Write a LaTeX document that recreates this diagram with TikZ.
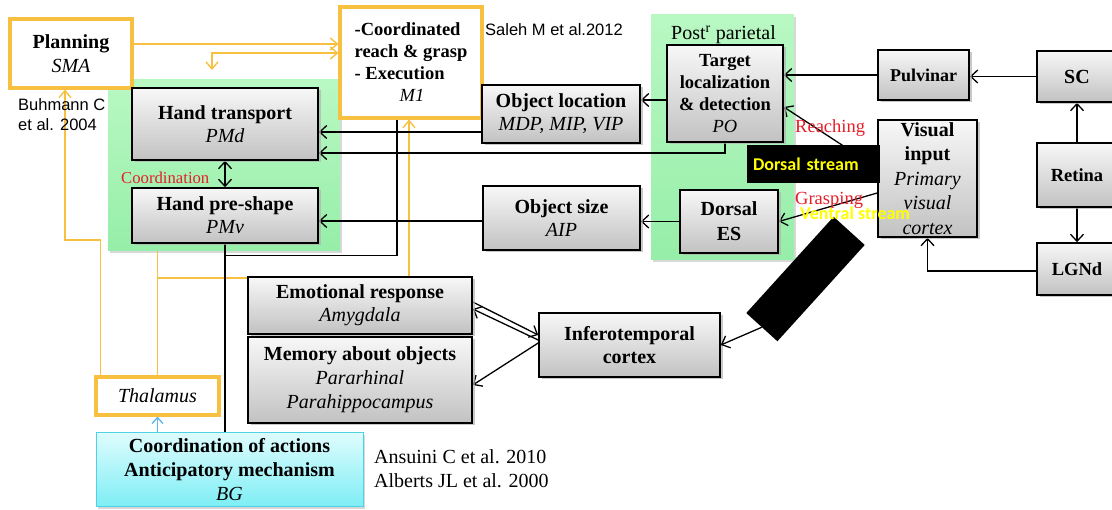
\documentclass[tikz,border=0pt]{standalone}
\usepackage{fontspec}
\setmainfont{Liberation Serif}
\newfontfamily\arialf{Liberation Sans}
\newfontfamily\calf{Carlito}
\usetikzlibrary{arrows.meta,shadows,calc}
\pgfdeclarelayer{bgl}
\pgfdeclarelayer{lines}
\pgfsetlayers{bgl,lines,main}
\definecolor{orng}{RGB}{247,192,64}
\definecolor{grnT}{RGB}{185,248,195}
\definecolor{grnB}{RGB}{150,238,168}
\definecolor{cyT}{RGB}{222,252,253}
\definecolor{cyB}{RGB}{125,238,245}
\definecolor{cyD}{RGB}{80,210,230}
\definecolor{arrblue}{RGB}{90,180,240}
\definecolor{redl}{RGB}{230,30,40}
\definecolor{yel}{RGB}{255,255,0}
\newcommand\itl[1]{{\mdseries\itshape #1}}
\begin{document}
\begin{tikzpicture}[x=1pt,y=-1pt,
 gbox/.style={draw=black,line width=1.6pt,top color=gray!6,bottom color=gray!48,
   drop shadow={shadow xshift=2.5pt,shadow yshift=-2.5pt,fill=gray!60,opacity=0.7},
   align=center,inner sep=0pt,font=\fontsize{20}{23}\selectfont\bfseries},
 obox/.style={draw=orng,line width=3.2pt,fill=white,align=center,inner sep=0pt,font=\fontsize{20}{24}\selectfont},
 bgbox/.style={draw=cyD,line width=1pt,top color=cyT,bottom color=cyB,
   drop shadow={shadow xshift=2pt,shadow yshift=-2pt,fill=gray!50,opacity=0.6},
   align=center,inner sep=0pt,font=\fontsize{20}{24}\selectfont\bfseries},
 greenreg/.style={draw=none,top color=grnT,bottom color=grnB,inner sep=0pt,
   drop shadow={shadow xshift=2pt,shadow yshift=-2pt,fill=gray!50,opacity=0.6}},
 barr/.style={draw=black,line width=1.3pt,-{Straight Barb[length=7pt,width=13pt]}},
 barr2/.style={draw=black,line width=1.3pt,{Straight Barb[length=7pt,width=13pt]}-{Straight Barb[length=7pt,width=13pt]}},
 bline/.style={draw=black,line width=1.3pt},
 oarr/.style={draw=orng,line width=1.4pt,-{Straight Barb[length=7pt,width=12pt]}},
 oarr2/.style={draw=orng,line width=1.4pt,{Straight Barb[length=7pt,width=12pt]}-{Straight Barb[length=7pt,width=12pt]}},
 oline/.style={draw=orng,line width=1.4pt},
 carr/.style={draw=arrblue,line width=1.3pt,-{Straight Barb[length=6pt,width=11pt]}},
 txt/.style={inner sep=0pt,anchor=west}
]
\useasboundingbox (0,0) rectangle (1112,510);
\begin{pgfonlayer}{bgl}
\fill[white] (0,0) rectangle (1112,510);
\node[greenreg,minimum width=232,minimum height=171] (gl) at (224,165.5) {};
\node[greenreg,minimum width=143,minimum height=245] (gr) at (722.5,137.5) {};
\end{pgfonlayer}

% boxes
\node[obox,minimum width=122,minimum height=69] (plan) at (71,53.5) {\textbf{Planning}\\\textit{SMA}};
\node[obox,minimum width=142,minimum height=111,align=left,font=\fontsize{18.5}{22}\selectfont\bfseries] (m1) at (411,62.5) {-Coordinated\\reach \& grasp\\- Execution\\\hspace*{45pt}\itl{M1}};
\node[gbox,minimum width=186,minimum height=72] (ht) at (225,124) {Hand transport\\\itl{PMd}};
\node[gbox,minimum width=186,minimum height=55] (pre) at (225,215.5) {Hand pre-shape\\\itl{PMv}};
\node[gbox,minimum width=158,minimum height=58] (loc) at (561,114) {Object location\\\itl{MDP, MIP, VIP}};
\node[gbox,minimum width=157,minimum height=64] (size) at (561.5,218) {Object size\\\itl{AIP}};
\node[gbox,minimum width=116,minimum height=97,font=\fontsize{18.5}{22}\selectfont\bfseries] (tgt) at (725,93.5) {Target\\localization\\\& detection\\\itl{PO}};
\node[gbox,minimum width=98,minimum height=63,font=\fontsize{20}{25}\selectfont\bfseries] (des) at (729,221.5) {Dorsal\\ES};
\node[gbox,minimum width=91,minimum height=50,font=\fontsize{18}{22}\selectfont\bfseries] (pulv) at (923.5,75) {Pulvinar};
\node[gbox,minimum width=80,minimum height=51] (sc) at (1077,76.5) {SC};
\node[gbox,minimum width=80,minimum height=64,font=\fontsize{18.5}{22}\selectfont\bfseries] (ret) at (1077,175) {Retina};
\node[gbox,minimum width=80,minimum height=52,font=\fontsize{18.5}{22}\selectfont\bfseries] (lgn) at (1077,269) {LGNd};
\node[gbox,minimum width=99,minimum height=117,font=\fontsize{20}{24.5}\selectfont\bfseries] (vis) at (927.5,178.5) {Visual\\input\\\itl{Primary}\\\itl{visual}\\\itl{cortex}};
\node[gbox,minimum width=181,minimum height=64] (it) at (629.5,345) {Inferotemporal\\cortex};
\node[gbox,minimum width=224,minimum height=57] (emo) at (360,305.5) {Emotional response\\\itl{Amygdala}};
\node[gbox,minimum width=224,minimum height=86,font=\fontsize{20}{24}\selectfont\bfseries] (mem) at (360,380) {Memory about objects\\\itl{Pararhinal}\\\itl{Parahippocampus}};
\node[obox,minimum width=123,minimum height=38] (thal) at (157.5,396) {\textit{Thalamus}};
\node[bgbox,minimum width=267,minimum height=74] (bg) at (229.5,470) {Coordination of actions\\Anticipatory mechanism\\\itl{BG}};

% connectors
\begin{pgfonlayer}{lines}
\coordinate (a1) at ([yshift=9.5pt]plan.east);
\draw[oarr] (a1) -- (a1 -| m1.west);
\coordinate (a2) at ([yshift=9.5pt]m1.west);
\coordinate (c212) at (212,70);
\draw[oarr2] (a2) -| (c212);
\coordinate (t1) at ([xshift=6pt]thal.north west);
\coordinate (p2) at ([xshift=-6pt]plan.south);
\coordinate (k1) at (65,240);
\draw[oarr] (t1) |- (k1) -- (p2);
\draw[oline] (thal.north) -- (thal.north |- gl.south);
\coordinate (e1) at ([yshift=-2pt]emo.north west);
\draw[oline] (e1) -- (e1 -| thal.north);
\coordinate (e2) at ([xshift=-2pt]m1.south);
\draw[oarr] (e2 |- emo.north) -- (e2);
\coordinate (m2) at ([xshift=-14pt]m1.south);
\coordinate (j1) at ([yshift=-12pt]pre.south);
\draw[bline] (m2) |- (j1);
\draw[bline] (pre.south) -- (pre.south |- bg.north);
\coordinate (l1) at ([yshift=-18pt]loc.west);
\draw[barr] (l1) -- (l1 -| ht.east);
\coordinate (h1) at ([yshift=-29pt]ht.east);
\draw[barr] (tgt.south) |- (h1);
\coordinate (tg1) at ([yshift=-6.5pt]tgt.west);
\draw[barr] (tg1) -- (tg1 -| loc.east);
\coordinate (s1) at ([yshift=-3pt]size.west);
\draw[barr] (s1) -- (s1 -| pre.east);
\draw[barr] (des.west) -- (des.west -| size.east);
\draw[barr] (pulv.west) -- (pulv.west -| tgt.east);
\draw[barr] (sc.west) -- (sc.west -| pulv.east);
\draw[barr] (ret.north) -- (sc.south);
\draw[barr] (ret.south) -- (lgn.north);
\coordinate (lg1) at ([yshift=-2pt]lgn.west);
\draw[barr] (lg1) -| (vis.south);
\draw[barr] ([yshift=10.5pt]vis.west) -- ([yshift=-13.5pt]tgt.east);
\draw[barr] ([yshift=-14.5pt]vis.west) -- (des.east);
\draw[barr] ([yshift=3.5pt]emo.east) -- ([yshift=10pt]it.west);
\draw[barr] ([yshift=5pt]it.west) -- ([yshift=-3.5pt]emo.east);
\draw[barr] ([yshift=2pt]it.west) -- ([yshift=-5pt]mem.east);
\draw[barr2] (ht.south) -- (pre.north);
\draw[carr] (thal.south |- bg.north) -- (thal.south);
\end{pgfonlayer}

% streams
\node[fill=black,minimum width=133,minimum height=38,inner xsep=6pt,inner ysep=0pt,text width=121,align=left,text=yel,font=\calf\bfseries\fontsize{18}{20}\selectfont] (ds) at (813.5,164) {Dorsal stream};
\node[fill=black,minimum width=130,minimum height=42,rotate=47.8,inner sep=0pt] (vb) at (805.5,279) {};
\draw[barr] (vb.west) -- (it.east);

% labels
\node[txt,font=\fontsize{20}{22}\selectfont] (ppl) at (671,35) {Post\textsuperscript{r} parietal};
\node[txt,text=redl,font=\fontsize{16.7}{18}\selectfont] (coordl) at (121,178) {Coordination};
\node[txt,text=redl,font=\fontsize{18.5}{20}\selectfont] (reach) at (795,128) {Reaching};
\node[txt,text=redl,font=\fontsize{18.5}{20}\selectfont] (grasp) at (795,200) {Grasping};
\node[txt,text=yel,font=\calf\bfseries\fontsize{18}{20}\selectfont] (vst) at (800,213) {Ventral stream};
\node[txt,align=left,font=\arialf\fontsize{16.5}{20}\selectfont] (buh) at (18,115) {Buhmann C\\et al. 2004};
\node[txt,font=\arialf\fontsize{16.5}{20}\selectfont] (sal) at (485,30) {Saleh M et al.2012};
\node[txt,align=left,font=\fontsize{20}{24}\selectfont] (ans) at (374,469) {Ansuini C et al. 2010\\Alberts JL et al. 2000};
\end{tikzpicture}
\end{document}
